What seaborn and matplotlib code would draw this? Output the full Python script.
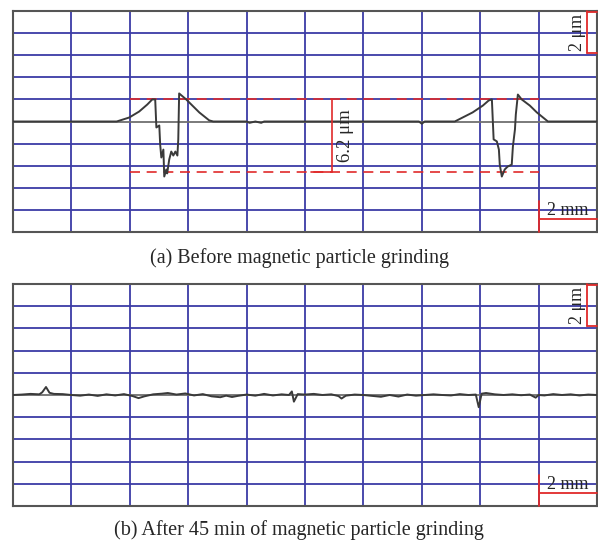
import matplotlib
matplotlib.use("Agg")
import matplotlib.pyplot as plt
import seaborn as sns
import pandas as pd

# profile (a): before grinding, x in mm, height in um
xa = [0.0, 3.55, 3.98, 4.32, 4.60, 4.77, 4.87, 4.91, 5.01, 5.04, 5.08, 5.15, 5.18,
      5.25, 5.28, 5.35, 5.42, 5.49, 5.56, 5.63, 5.66, 5.69, 5.93, 6.38, 6.72, 6.86,
      8.0, 8.1, 8.3, 8.5, 8.6, 13.9, 14.0, 14.1,
      15.13, 15.74, 16.09, 16.29, 16.40, 16.43, 16.46, 16.57, 16.64, 16.67, 16.74,
      16.84, 16.94, 17.08, 17.12, 17.19, 17.22, 17.29, 17.42, 17.70, 17.94, 18.32, 20.0]
ya = [0.0, 0.0, 0.18, 0.45, 0.77, 1.0, 1.0, -0.27, -0.18, -1.04, -1.63, -1.27, -2.49,
      -2.17, -2.35, -1.72, -1.36, -1.54, -1.36, -1.54, -0.81, 1.27, 1.0, 0.41, 0.05, 0.0,
      0.0, -0.06, 0.0, -0.06, 0.0, 0.0, -0.1, 0.0,
      0.0, 0.41, 0.72, 0.95, 1.0, 0.09, -0.81, -0.9, -1.27, -1.95, -2.49,
      -2.17, -2.04, -1.95, -1.13, -0.36, 0.32, 1.22, 1.0, 0.72, 0.41, 0.0, 0.0]

# profile (b): after 45 min grinding
xb = [0.0, 0.3, 0.6, 0.9, 1.0, 1.13, 1.25, 1.4, 1.7, 2.0, 2.3, 2.6, 2.9, 3.2, 3.5,
      3.8, 4.1, 4.3, 4.5, 4.8, 5.1, 5.3, 5.6, 5.9, 6.2, 6.5, 6.8, 7.1, 7.3, 7.5,
      7.7, 8.0, 8.3, 8.6, 8.9, 9.2, 9.45, 9.55, 9.62, 9.75, 10.0, 10.3, 10.6, 10.9,
      11.15, 11.25, 11.4, 11.7, 12.0, 12.3, 12.6, 12.9, 13.2, 13.5, 13.8, 14.1, 14.4,
      14.7, 15.0, 15.3, 15.6, 15.85, 15.95, 16.05, 16.2, 16.5, 16.8, 17.1, 17.4, 17.7,
      17.9, 18.0, 18.2, 18.5, 18.8, 19.1, 19.4, 19.7, 20.0]
yb = [0.0, 0.02, 0.05, 0.03, 0.12, 0.36, 0.10, 0.05, 0.04, 0.0, -0.03, 0.02, -0.04, 0.03, -0.02,
      0.04, -0.05, -0.14, -0.06, 0.03, 0.06, 0.09, 0.02, 0.07, -0.02, 0.04, -0.06, -0.10, -0.03, -0.09,
      -0.04, 0.02, -0.03, 0.05, -0.02, 0.03, 0.0, 0.16, -0.30, 0.04, 0.02, 0.05, 0.0, 0.03,
      -0.05, -0.16, -0.03, 0.02, 0.0, -0.04, -0.08, 0.0, -0.07, 0.02, -0.03, 0.0, 0.03,
      0.0, -0.02, 0.04, 0.0, 0.02, -0.55, 0.06, 0.09, 0.03, 0.0, 0.03, -0.01, 0.02,
      -0.12, 0.0, -0.02, 0.04, 0.0, 0.03, -0.02, 0.02, 0.0]

captions = ["(a) Before magnetic particle grinding",
            "(b) After 45 min of magnetic particle grinding"]

# annotation levels in panel (a)
peak_level = 1.0
pit_level = -2.27

sns.set_style("white")
plt.rcParams['font.family'] = ['Liberation Serif', 'DejaVu Serif']

blue = "#3c3ca6"
red = "#e02a2a"
W, H = 598, 542
fig = plt.figure(figsize=(W / 100, H / 100), dpi=100)

boxes = [(13, 11, 597, 232), (13, 284, 597, 506)]
profiles = [(xa, ya), (xb, yb)]
axes = []
for (l, t, r, b), (px, py) in zip(boxes, profiles):
    ax = fig.add_axes([l / W, 1 - b / H, (r - l) / W, (b - t) / H])
    ax.set_xlim(0, 20)
    ax.set_ylim(-5, 5)
    for xv in range(2, 20, 2):
        ax.axvline(xv, color=blue, lw=1.3, zorder=1)
    for yv in range(-4, 5):
        ax.axhline(yv, color="#707070" if yv == 0 else blue, lw=1.3, zorder=1)
    df = pd.DataFrame({"x": px, "y": py})
    sns.lineplot(data=df, x="x", y="y", ax=ax, color="#3a3a3a", lw=1.4,
                 sort=False, estimator=None, zorder=3)
    ax.set_xticks([])
    ax.set_yticks([])
    ax.set_xlabel("")
    ax.set_ylabel("")
    for s in ax.spines.values():
        s.set_color("#555555")
        s.set_linewidth(1.5)
    # scale bars: 2 um vertical, 2 mm horizontal
    ax.plot([19.66, 19.66], [5, 3.1], color=red, lw=1.3, zorder=4, clip_on=False)
    ax.plot([19.66, 20], [3.1, 3.1], color=red, lw=1.3, zorder=4, clip_on=False)
    ax.plot([19.66, 20], [4.95, 4.95], color=red, lw=1.3, zorder=4, clip_on=False)
    ax.text(19.32, 4.05, "2 μm", rotation=90, ha="center", va="center", fontsize=13)
    ax.plot([18, 20], [-4.43, -4.43], color=red, lw=1.3, zorder=4, clip_on=False)
    ax.plot([18, 18], [-3.6, -5], color=red, lw=1.3, zorder=4, clip_on=False)
    ax.text(19.0, -4.42, "2 mm", ha="center", va="bottom", fontsize=13)
    axes.append(ax)

# depth annotation on panel (a)
ax = axes[0]
ax.plot([4.0, 18.0], [peak_level, peak_level], color=red, lw=1.2, ls=(0, (6, 4)), zorder=2)
ax.plot([4.0, 18.0], [pit_level, pit_level], color=red, lw=1.2, ls=(0, (6, 4)), zorder=2)
ax.plot([10.94, 10.94], [peak_level, pit_level], color=red, lw=1.2, zorder=4)
ax.plot([10.2, 10.94], [pit_level, pit_level], color=red, lw=1.2, zorder=4)
ax.text(11.4, (peak_level + pit_level) / 2, "6.2 μm", rotation=90,
        ha="center", va="center", fontsize=13.5)

fig.text(0.5, 1 - 258 / H, captions[0], ha="center", va="center", fontsize=14.5)
fig.text(0.5, 1 - 530 / H, captions[1], ha="center", va="center", fontsize=14.5)

fig.savefig("out.png", dpi=100)
